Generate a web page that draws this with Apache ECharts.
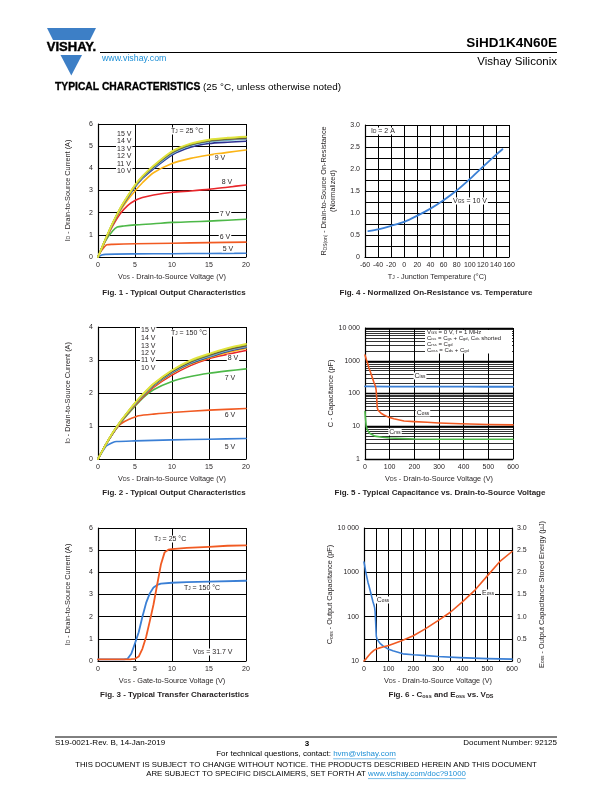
<!DOCTYPE html>
<html><head><meta charset="utf-8">
<script src="https://cdn.jsdelivr.net/npm/echarts/dist/echarts.min.js"></script>
<style>html,body{margin:0;padding:0;background:#fff}#c{width:612px;height:792px}</style>
</head><body><div id="c"></div>
<script>
// ---------------- DATA ----------------
// Fig. 1 - Output characteristics, TJ = 25 °C
const fig1_vds    = [0,1,2,3,4,5,6,7.5,10,12.5,15,17.5,20];
const fig1_15V    = [0,0.8,1.55,2.2,2.75,3.25,3.65,4.12,4.77,5.12,5.3,5.38,5.43];
const fig1_14V    = [0,0.8,1.54,2.19,2.73,3.23,3.63,4.1,4.74,5.09,5.27,5.35,5.4];
const fig1_13V    = [0,0.79,1.53,2.18,2.72,3.21,3.61,4.08,4.72,5.07,5.25,5.33,5.37];
const fig1_12V    = [0,0.79,1.52,2.17,2.71,3.2,3.6,4.06,4.69,5.05,5.22,5.3,5.34];
const fig1_11V    = [0,0.79,1.52,2.16,2.7,3.18,3.58,4.03,4.66,5.02,5.2,5.27,5.31];
const fig1_10V    = [0,0.78,1.5,2.14,2.67,3.15,3.54,3.98,4.6,4.95,5.12,5.18,5.22];
const fig1_9V     = [0,0.77,1.48,2.08,2.57,2.98,3.35,3.8,4.22,4.45,4.6,4.72,4.83];
const fig1_8V     = [0,0.75,1.42,1.95,2.32,2.55,2.68,2.8,2.92,2.98,3.05,3.15,3.25];
const fig1_7V_x   = [0,1,2,2.6,3.5,5,7.5,10,12.5,15,17.5,20];
const fig1_7V     = [0,0.72,1.18,1.35,1.4,1.45,1.5,1.56,1.59,1.62,1.66,1.7];
const fig1_6V_x   = [0,0.5,1.2,2,5,10,15,20];
const fig1_6V     = [0,0.3,0.55,0.57,0.6,0.62,0.65,0.67];
const fig1_5V_x   = [0,0.5,1,5,10,15,20];
const fig1_5V     = [0,0.09,0.12,0.14,0.15,0.16,0.17];

// Fig. 2 - Output characteristics, TJ = 150 °C
const fig2_vds    = [0,1,2,3,4,5,6,7.5,10,12.5,15,17.5,20];
const fig2_15V    = [0,0.42,0.8,1.13,1.42,1.7,1.95,2.28,2.69,2.99,3.19,3.36,3.49];
const fig2_14V    = [0,0.42,0.8,1.13,1.42,1.69,1.94,2.27,2.68,2.97,3.17,3.34,3.46];
const fig2_13V    = [0,0.42,0.8,1.12,1.41,1.69,1.93,2.26,2.66,2.95,3.15,3.32,3.44];
const fig2_12V    = [0,0.42,0.79,1.12,1.41,1.68,1.92,2.25,2.65,2.94,3.13,3.3,3.42];
const fig2_11V    = [0,0.41,0.79,1.11,1.4,1.67,1.91,2.24,2.63,2.92,3.11,3.28,3.4];
const fig2_10V    = [0,0.41,0.78,1.11,1.39,1.66,1.9,2.22,2.61,2.9,3.09,3.26,3.38];
const fig2_9V     = [0,0.41,0.78,1.1,1.38,1.65,1.89,2.2,2.59,2.88,3.07,3.23,3.35];
const fig2_8V     = [0,0.41,0.77,1.09,1.37,1.63,1.86,2.17,2.54,2.83,3.04,3.17,3.29];
const fig2_7V     = [0,0.41,0.77,1.08,1.35,1.6,1.84,2.1,2.35,2.5,2.6,2.67,2.73];
const fig2_6V_x   = [0,1,2,3,4,5,5.5,7.5,10,15,20];
const fig2_6V     = [0,0.42,0.78,1.05,1.18,1.27,1.31,1.36,1.41,1.48,1.53];
const fig2_5V_x   = [0,1,1.3,2,2.5,5,10,15,20];
const fig2_5V     = [0,0.36,0.42,0.5,0.53,0.55,0.58,0.6,0.62];

// Fig. 3 - Transfer characteristics (VDS = 31.7 V)
const fig3_vgs25  = [0,2,4,4.5,5,5.5,6,6.5,7,7.5,8,8.5,9,9.5,10,12,15,17.5,20];
const fig3_id25   = [0.07,0.07,0.07,0.08,0.1,0.2,0.55,1.08,1.8,2.55,3.45,4.35,4.9,5.02,5.05,5.1,5.15,5.2,5.22];
const fig3_vgs150 = [0,2,3.5,4,4.5,5,5.5,6,6.5,7,7.5,8,8.5,10,12,15,20];
const fig3_id150  = [0.07,0.07,0.07,0.1,0.33,0.8,1.3,2.0,2.62,3.05,3.32,3.43,3.49,3.53,3.56,3.58,3.62];

// Fig. 4 - Normalized on-resistance vs. temperature
const fig4_tj     = [-55,-40,-20,0,20,40,60,80,100,120,140,150];
const fig4_rds    = [0.59,0.63,0.71,0.8,0.94,1.1,1.29,1.51,1.77,2.05,2.32,2.45];

// Fig. 5 - Capacitance vs. VDS
const fig5_vds_iss = [0,100,200,300,400,500,600];
const fig5_ciss    = [165,163,162,162,162,161,161];
const fig5_vds_oss = [0,3,6,10,16,20,25,30,36,40,43,45,47,49,50,53,57,65,77,95,117,158,200,252,300,387,500,600];
const fig5_coss    = [1500,1250,1050,850,600,500,390,300,220,185,160,130,80,45,36,31,29,25,22,19,17,14.5,13.8,13.2,12.6,11.9,11.3,11.0];
const fig5_vds_rss = [0,2,5,10,20,40,70,100,200,300,400,600];
const fig5_crss    = [28,17,10,7.5,6,5,4.6,4.4,4.1,4.0,4.0,4.0];
const fig5_minor   = [2,3,4,5,6,7,8,9,20,30,40,50,60,70,80,90,200,300,400,500,600,700,800,900,2000,3000,4000,5000,6000,7000,8000,9000];

// Fig. 6 - Coss and Eoss vs. VDS
const fig6_vds_c  = [0,3,6,10,16,20,25,30,36,40,43,45,47,49,50,53,57,65,77,95,117,158,200,252,300,387,500,600];
const fig6_coss   = [1700,1400,1100,850,600,500,390,300,220,185,160,130,80,45,36,31,29,25,22,19,17,14.5,13.8,13.2,12.6,11.9,11.3,11.0];
const fig6_vds_e  = [0,10,20,30,40,50,60,80,100,150,200,250,300,350,400,450,500,550,600];
const fig6_eoss   = [0,0.06,0.13,0.19,0.24,0.27,0.29,0.32,0.35,0.45,0.57,0.73,0.91,1.1,1.34,1.6,1.92,2.24,2.47];

// ---------------- STYLE ----------------
const F = "'Liberation Sans', Arial, Helvetica, sans-serif";
const TXT = '#231f20';
const BLUE = '#3a7fd5', ORANGE = '#f15a22', GREEN = '#4db848', RED = '#e8262b',
      AMBER = '#fbb416', NAVY = '#2e3192', CYAN = '#62c4de', GRAY = '#8a8a8a',
      BROWN = '#5a4030', OLIVE = '#9cbf3b', YELLOW = '#e2e33c';
function sub(fs){ return {fontSize: fs*0.68, fontFamily:F, color:TXT, verticalAlign:'bottom', lineHeight: fs*0.45}; }
function pairs(xs, ys){ return xs.map((x,i)=>[x, ys[i]]); }

const grids = [
  {left:98,  top:124, width:148, height:133},
  {left:365, top:125, width:144, height:132},
  {left:98,  top:327, width:148, height:132},
  {left:365, top:328, width:148, height:131},
  {left:98,  top:528, width:148, height:133},
  {left:364, top:528, width:148, height:133}
];

const LBL = {color:TXT, fontSize:7, fontFamily:F};
const AXL = {show:true, onZero:false, lineStyle:{color:'#000', width:1.2}};
const SPL = {show:true, lineStyle:{color:'#000', width:1}};
function nameStyle(fs){ return {fontSize:fs, fontFamily:F, color:TXT, rich:{s:sub(fs)}}; }

function vAxis(gi, min, max, interval, o){
  return Object.assign({
    type:'value', gridIndex:gi, min, max, interval,
    axisLine:AXL, axisTick:{show:false}, splitLine:SPL,
    axisLabel:Object.assign({margin:5, showMinLabel:true, showMaxLabel:true}, LBL),
    nameLocation:'middle', nameTextStyle:nameStyle(7.3)
  }, o||{});
}

const xAxes = [
  vAxis(0, 0, 20, 5, {name:'V{s|DS} - Drain-to-Source Voltage (V)', nameGap:16}),
  vAxis(1, -60, 160, 20, {name:'T{s|J} - Junction Temperature (°C)', nameGap:16}),
  vAxis(2, 0, 20, 5, {name:'V{s|DS} - Drain-to-Source Voltage (V)', nameGap:16}),
  vAxis(3, 0, 600, 100, {name:'V{s|DS} - Drain-to-Source Voltage (V)', nameGap:16}),
  vAxis(4, 0, 20, 5, {name:'V{s|GS} - Gate-to-Source Voltage (V)', nameGap:16}),
  vAxis(5, 0, 600, 50, {name:'V{s|DS} - Drain-to-Source Voltage (V)', nameGap:16,
     axisLabel:Object.assign({margin:5, showMinLabel:true, showMaxLabel:true, formatter:v=> (v%100===0? String(v):'')}, LBL)})
];
const logFmt = v => (v===10000 ? '10 000' : String(v));
const yAxes = [
  vAxis(0, 0, 6, 1, {name:'I{s|D} - Drain-to-Source Current (A)', nameRotate:90, nameGap:27}),
  vAxis(1, 0, 3, 0.25, {name:'R{s|DS(on)} - Drain-to-Source On-Resistance\n(Normalized)', nameRotate:90, nameGap:28,
     nameTextStyle:Object.assign(nameStyle(7.3), {lineHeight:8.5}),
     axisLabel:Object.assign({margin:5, showMinLabel:true, showMaxLabel:true,
        formatter:v=> (Math.abs(v*2-Math.round(v*2))>1e-6 ? '' : (v===0?'0':v.toFixed(1)))}, LBL)}),
  vAxis(2, 0, 4, 1, {name:'I{s|D} - Drain-to-Source Current (A)', nameRotate:90, nameGap:27}),
  {type:'log', logBase:10, gridIndex:3, min:1, max:10000,
     axisLine:AXL, axisTick:{show:false}, splitLine:{show:true, lineStyle:{color:'#000', width:1.3}},
     axisLabel:Object.assign({margin:5, formatter:logFmt, showMinLabel:true, showMaxLabel:true}, LBL),
     name:'C - Capacitance (pF)', nameLocation:'middle', nameRotate:90, nameGap:30, nameTextStyle:nameStyle(7.3)},
  vAxis(4, 0, 6, 1, {name:'I{s|D} - Drain-to-Source Current (A)', nameRotate:90, nameGap:27}),
  {type:'log', logBase:10, gridIndex:5, min:10, max:10000, position:'left',
     axisLine:AXL, axisTick:{show:false}, splitLine:{show:false},
     axisLabel:Object.assign({margin:5, formatter:logFmt, showMinLabel:true, showMaxLabel:true}, LBL),
     name:'C{s|oss} - Output Capacitance (pF)', nameLocation:'middle', nameRotate:90, nameGap:30, nameTextStyle:nameStyle(7.3)},
  vAxis(5, 0, 3, 0.5, {position:'right', name:'E{s|oss} - Output Capacitance Stored Energy (µJ)', nameRotate:90, nameGap:26,
     axisLabel:Object.assign({margin:5, showMinLabel:true, showMaxLabel:true, formatter:v=>(v===0?'0':v.toFixed(1))}, LBL)})
];

function line(xi, yi, data, color, w, sm){
  return {type:'line', xAxisIndex:xi, yAxisIndex:yi, data, showSymbol:false, symbol:'none',
    smooth: sm===undefined ? 0.25 : sm, lineStyle:{color, width:w||1.6, join:'round', cap:'round'},
    itemStyle:{color}, z:3, silent:true, animation:false};
}

const series = [
  // Fig 1
  line(0,0,pairs(fig1_5V_x,fig1_5V),BLUE),
  line(0,0,pairs(fig1_6V_x,fig1_6V),ORANGE),
  line(0,0,pairs(fig1_7V_x,fig1_7V),GREEN),
  line(0,0,pairs(fig1_vds,fig1_8V),RED),
  line(0,0,pairs(fig1_vds,fig1_9V),AMBER),
  line(0,0,pairs(fig1_vds,fig1_10V),NAVY),
  line(0,0,pairs(fig1_vds,fig1_11V),CYAN),
  line(0,0,pairs(fig1_vds,fig1_12V),GRAY),
  line(0,0,pairs(fig1_vds,fig1_13V),BROWN),
  line(0,0,pairs(fig1_vds,fig1_14V),OLIVE),
  line(0,0,pairs(fig1_vds,fig1_15V),YELLOW,1.8),
  // Fig 4
  line(1,1,pairs(fig4_tj,fig4_rds),BLUE,1.8),
  // Fig 2
  line(2,2,pairs(fig2_5V_x,fig2_5V),BLUE),
  line(2,2,pairs(fig2_6V_x,fig2_6V),ORANGE),
  line(2,2,pairs(fig2_vds,fig2_7V),GREEN),
  line(2,2,pairs(fig2_vds,fig2_8V),RED),
  line(2,2,pairs(fig2_vds,fig2_9V),AMBER),
  line(2,2,pairs(fig2_vds,fig2_10V),NAVY),
  line(2,2,pairs(fig2_vds,fig2_11V),CYAN),
  line(2,2,pairs(fig2_vds,fig2_12V),GRAY),
  line(2,2,pairs(fig2_vds,fig2_13V),BROWN),
  line(2,2,pairs(fig2_vds,fig2_14V),OLIVE),
  line(2,2,pairs(fig2_vds,fig2_15V),YELLOW,1.8),
  // Fig 5
  Object.assign(line(3,3,pairs(fig5_vds_iss,fig5_ciss),BLUE,1.8,false), {
    markLine:{silent:true, symbol:['none','none'], z:1, animation:false, label:{show:false},
      lineStyle:{color:'#000', width:0.8, type:'solid'},
      data: fig5_minor.map(v=>({yAxis:v}))}}),
  line(3,3,pairs(fig5_vds_oss,fig5_coss),ORANGE,1.6,false),
  line(3,3,pairs(fig5_vds_rss,fig5_crss),GREEN,1.6,false),
  // Fig 3
  line(4,4,pairs(fig3_vgs150,fig3_id150),BLUE,1.8,false),
  line(4,4,pairs(fig3_vgs25,fig3_id25),ORANGE,1.8,false),
  // Fig 6
  line(5,5,pairs(fig6_vds_c,fig6_coss),BLUE,1.6,false),
  line(5,6,pairs(fig6_vds_e,fig6_eoss),ORANGE,1.6,false)
];

// ---------------- TEXT / DECORATION ----------------
function T(x, y, text, o){
  o = o||{};
  const fs = o.fs||7;
  return {type:'text', x, y, z:50, silent:true, style:Object.assign({
    text, fontSize:fs, fontFamily:F, fill:o.fill||TXT, fontWeight:o.bold?'bold':'normal',
    align:o.align||'left', verticalAlign:'middle', rich:{s:Object.assign(sub(fs),{fill:o.fill||TXT})}
  }, o.bg ? {backgroundColor:'#fff', padding:[0,1,0,1]} : {}, o.style||{})};
}
const LINK = '#1d8fd6';
const mctx = document.createElement('canvas').getContext('2d');
function tw(s, fs){ mctx.font = fs + 'px ' + F; return mctx.measureText(s).width; }
// underline for a link at the end of a centered line
function linkUnderline(cx, y, pre, link, fs){
  const total = tw(pre + link, fs), x0 = cx - total/2 + tw(pre, fs);
  return {type:'line', shape:{x1:x0, y1:y, x2:x0 + tw(link, fs), y2:y}, style:{stroke:LINK, lineWidth:0.6}, silent:true, z:50};
}
const FT = 8.0, FD = 7.8;
const pre1 = 'For technical questions, contact: ', lnk1 = 'hvm@vishay.com';
const pre2 = 'ARE SUBJECT TO SPECIFIC DISCLAIMERS, SET FORTH AT ', lnk2 = 'www.vishay.com/doc?91000';

const graphics = [
  // logo
  {type:'polygon', shape:{points:[[47,28],[96,28],[90,40],[53,40]]}, style:{fill:'#3d7fc6'}, silent:true},
  {type:'polygon', shape:{points:[[60.5,55],[82,55],[71.3,75.5]]}, style:{fill:'#3d7fc6'}, silent:true},
  T(71.5, 47.5, 'VISHAY.', {fs:13, bold:true, align:'center', fill:'#000', style:{stroke:'#000', lineWidth:0.4}}),
  {type:'line', shape:{x1:100, y1:52.5, x2:557, y2:52.5}, style:{stroke:'#000', lineWidth:1}, silent:true},
  T(102, 59, 'www.vishay.com', {fs:8.8, fill:LINK}),
  T(557, 43, 'SiHD1K4N60E', {fs:13.5, bold:true, align:'right', fill:'#000'}),
  T(557, 62, 'Vishay Siliconix', {fs:11.5, align:'right', fill:'#000'}),
  T(55, 87, '{b|TYPICAL CHARACTERISTICS} (25 °C, unless otherwise noted)', {fs:9.9, fill:'#000',
     style:{rich:{b:{fontSize:10.3, fontWeight:'bold', fontFamily:F, fill:'#000', stroke:'#000', lineWidth:0.3}}}}),
  // captions
  T(174, 293, 'Fig. 1 - Typical Output Characteristics', {fs:8, bold:true, align:'center'}),
  T(436, 293, 'Fig. 4 - Normalized On-Resistance vs. Temperature', {fs:8, bold:true, align:'center'}),
  T(174, 493, 'Fig. 2 - Typical Output Characteristics', {fs:8, bold:true, align:'center'}),
  T(440, 493, 'Fig. 5 - Typical Capacitance vs. Drain-to-Source Voltage', {fs:8, bold:true, align:'center'}),
  T(174.5, 695, 'Fig. 3 - Typical Transfer Characteristics', {fs:8, bold:true, align:'center'}),
  T(441, 695, 'Fig. 6 - C{b|oss} and E{b|oss} vs. V{b|DS}', {fs:8, bold:true, align:'center',
     style:{rich:{b:Object.assign(sub(8),{fontWeight:'bold'})}}}),
  // Fig 1 annotations
  T(170, 131, 'T{s|J} = 25 °C', {bg:true}),
  T(116, 134, '15 V', {bg:true}), T(116, 141.5, '14 V', {bg:true}), T(116, 149, '13 V', {bg:true}),
  T(116, 156.5, '12 V', {bg:true}), T(116, 164, '11 V', {bg:true}), T(116, 171, '10 V', {bg:true}),
  T(220, 158, '9 V', {bg:true, align:'center'}), T(227, 182, '8 V', {bg:true, align:'center'}),
  T(225, 214, '7 V', {bg:true, align:'center'}), T(225, 237, '6 V', {bg:true, align:'center'}),
  T(228, 249, '5 V', {bg:true, align:'center'}),
  // Fig 2 annotations
  T(170, 333, 'T{s|J} = 150 °C', {bg:true}),
  T(140, 330, '15 V', {bg:true}), T(140, 338, '14 V', {bg:true}), T(140, 345.7, '13 V', {bg:true}),
  T(140, 353.3, '12 V', {bg:true}), T(140, 360.5, '11 V', {bg:true}), T(140, 368, '10 V', {bg:true}),
  T(233, 358, '8 V', {bg:true, align:'center'}), T(230, 378, '7 V', {bg:true, align:'center'}),
  T(230, 415, '6 V', {bg:true, align:'center'}), T(230, 447, '5 V', {bg:true, align:'center'}),
  // Fig 3 annotations
  T(153, 539, 'T{s|J} = 25 °C', {bg:true}),
  T(183, 588, 'T{s|J} = 150 °C', {bg:true}),
  T(192, 652, 'V{s|DS} = 31.7 V', {bg:true}),
  // Fig 4 annotations
  T(370, 131, 'I{s|D} = 2 A', {bg:true}),
  T(452, 201, 'V{s|GS} = 10 V', {bg:true}),
  // Fig 5 legend box + labels
  {type:'rect', shape:{x:425, y:330, width:87, height:23.5}, style:{fill:'#fff'}, z:40, silent:true},
  T(427, 332.3, 'V{s|GS} = 0 V, f = 1 MHz', {fs:6}),
  T(427, 338.2, 'C{s|iss} = C{s|gs} + C{s|gd}, C{s|ds} shorted', {fs:6}),
  T(427, 344.1, 'C{s|rss} = C{s|gd}', {fs:6}),
  T(427, 350, 'C{s|oss} = C{s|ds} + C{s|gd}', {fs:6}),
  T(420, 376, 'C{s|iss}', {bg:true, align:'center'}),
  T(423, 413, 'C{s|oss}', {bg:true, align:'center'}),
  T(395, 432, 'C{s|rss}', {bg:true, align:'center'}),
  // Fig 6 labels
  T(383, 600, 'C{s|oss}', {bg:true, align:'center'}),
  T(488, 593, 'E{s|oss}', {bg:true, align:'center'}),
  // footer
  {type:'line', shape:{x1:55, y1:737, x2:557, y2:737}, style:{stroke:'#000', lineWidth:1}, silent:true},
  T(55, 743, 'S19-0021-Rev. B, 14-Jan-2019', {fs:FT, fill:'#000'}),
  T(307, 743.5, '3', {fs:FT, bold:true, align:'center', fill:'#000'}),
  T(557, 743, 'Document Number: 92125', {fs:FT, align:'right', fill:'#000'}),
  T(306, 754, pre1 + '{l|' + lnk1 + '}', {fs:FT, align:'center', fill:'#000',
     style:{rich:{l:{fontSize:FT, fontFamily:F, fill:LINK}}}}),
  linkUnderline(306, 758.8, pre1, lnk1, FT),
  T(306, 765, 'THIS DOCUMENT IS SUBJECT TO CHANGE WITHOUT NOTICE. THE PRODUCTS DESCRIBED HEREIN AND THIS DOCUMENT', {fs:FD, align:'center', fill:'#000'}),
  T(306, 774, pre2 + '{l|' + lnk2 + '}', {fs:FD, align:'center', fill:'#000',
     style:{rich:{l:{fontSize:FD, fontFamily:F, fill:LINK}}}}),
  linkUnderline(306, 778.6, pre2, lnk2, FD)
];

const chart = echarts.init(document.getElementById('c'), null, {renderer:'canvas'});
chart.setOption({
  animation:false,
  backgroundColor:'#fff',
  textStyle:{fontFamily:F},
  grid: grids.map(g=>Object.assign({outerBoundsMode:'none', containLabel:false}, g)),
  xAxis: xAxes,
  yAxis: yAxes,
  series,
  graphic: graphics
});
</script>
</body></html>
